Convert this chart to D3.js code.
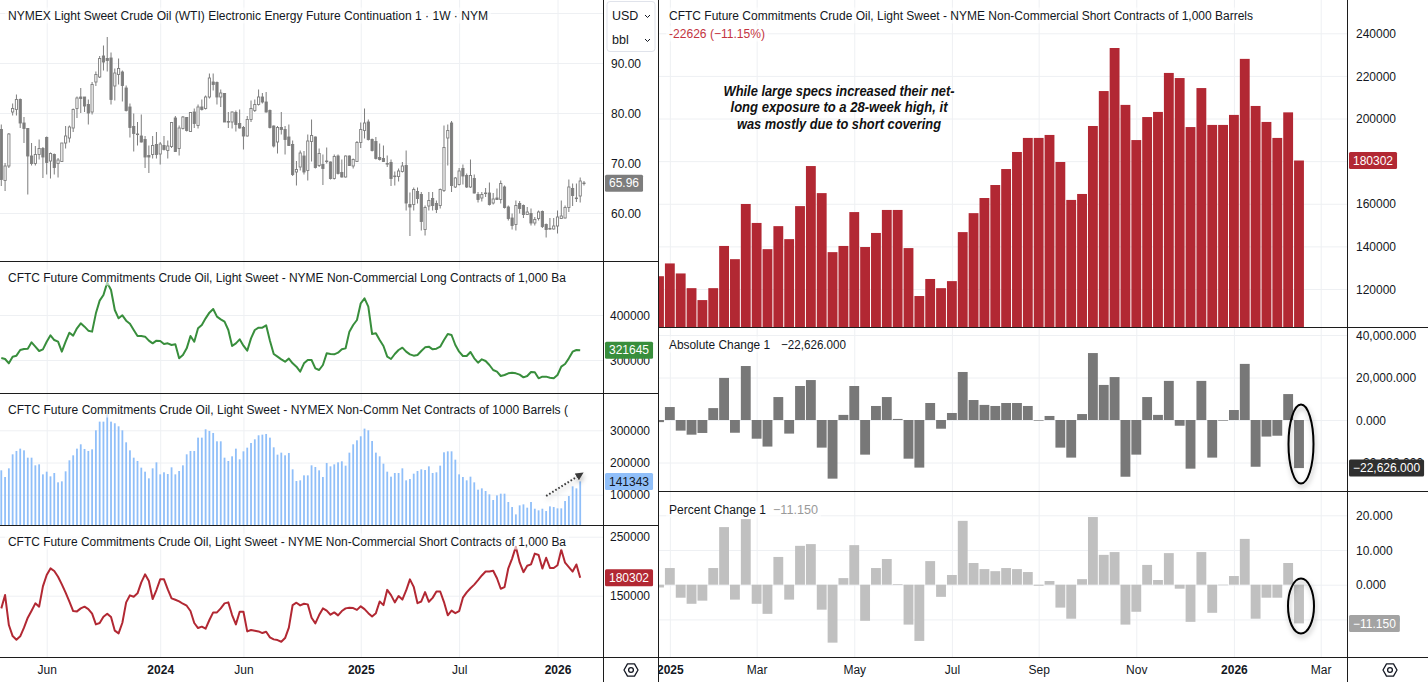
<!DOCTYPE html>
<html>
<head>
<meta charset="utf-8">
<title>WTI and CFTC non-commercial positioning</title>
<script src="https://cdn.jsdelivr.net/npm/d3@7"></script>
<style>
  body { margin: 0; background: #fff; }
  svg { display: block; }
</style>
</head>
<body>
<svg id="chart" width="1428" height="682"></svg>
<script>
// weekly WTI candles, first week 2023-03-13
const wtiOpen = [76.7,66.5,69.4,80.2,80.7,82.7,78.0,76.9,71.4,69.9,71.7,72.9,
  75.1,70.4,71.7,69.9,70.3,74.0,75.0,77.0,80.9,83.2,
  83.2,81.7,80.2,86.2,87.2,91.4,90.9,91.0,85.4,87.7,
  88.2,85.0,81.2,77.3,75.8,75.4,74.7,71.5,71.7,73.7,
  71.8,73.5,72.5,73.3,79.0,72.9,76.9,79.1,76.3,80.2,
  77.5,81.2,80.9,83.2,86.2,86.1,83.2,83.9,78.3,78.2,
  80.1,77.9,77.1,75.4,78.7,80.5,81.7,83.2,82.2,80.5,
  77.4,74.2,77.1,76.7,75.2,73.7,68.2,69.2,71.4,68.5,
  74.3,75.2,69.5,69.7,70.4,70.2,66.9,71.4,68.1,67.2,
  71.4,69.4,70.3,74.1,76.5,78.2,74.7,74.3,71.1,70.9,
  69.9,70.1,67.4,67.3,68.3,69.5,61.7,61.7,64.3,63.7,
  56.7,61.4,62.9,61.9,61.5,64.5,75.0,78.0,65.2,65.7,
  68.9,67.5,65.2,66.9,63.7,63.0,64.0,64.0,62.0,63.0,
  62.7,65.2,61.2,59.0,57.7,61.9,61.5,59.7,59.9,58.0,
  58.9,60.3,57.7,56.9,56.8,57.4,58.9,59.0,61.1,64.9,
  63.0,63.4,66.0];
const wtiHigh = [77.7,70.0,76.0,81.9,83.7,82.9,79.2,77.0,74.0,73.4,74.7,73.2,
  75.3,72.1,71.9,71.0,74.0,77.4,77.5,80.9,83.3,85.0,
  83.2,82.7,86.2,88.3,91.4,93.5,95.2,92.1,88.9,90.9,
  88.5,85.5,81.9,79.9,78.2,79.7,75.4,73.5,75.4,76.2,
  74.2,75.4,74.5,78.2,79.4,77.5,79.4,79.2,80.1,80.9,
  81.7,82.7,83.5,87.9,87.9,86.3,84.7,84.0,80.2,80.3,
  80.5,80.7,77.4,79.4,82.5,82.7,84.7,84.0,84.2,80.7,
  77.5,77.4,80.2,77.4,77.7,74.5,70.4,72.5,72.4,75.7,
  78.7,75.3,72.9,71.7,73.1,70.3,71.7,71.7,70.7,71.5,
  71.5,70.9,74.4,78.1,80.9,78.7,74.9,75.2,73.9,73.5,
  71.5,70.7,68.3,68.9,70.2,72.5,64.1,65.1,65.1,64.2,
  61.5,64.2,64.2,62.5,64.9,77.5,77.7,78.4,67.2,69.0,
  69.7,67.9,70.7,67.7,64.2,64.2,65.0,66.1,64.0,64.9,
  66.5,65.5,61.5,59.9,62.5,62.4,61.7,61.2,60.9,59.2,
  60.5,60.5,57.9,59.0,59.0,60.5,62.5,61.5,66.7,65.9,
  65.9,67.1,66.4];
const wtiLow = [65.4,64.4,69.0,79.5,79.5,77.0,74.0,63.7,69.5,69.5,70.7,67.0,
  67.7,66.9,67.7,67.1,70.2,72.9,74.1,76.2,79.0,80.0,
  80.2,77.7,79.7,85.4,87.0,88.5,88.3,81.7,82.5,85.7,
  82.3,80.3,75.1,72.3,73.5,74.1,69.0,68.0,70.9,70.9,
  69.7,72.5,70.9,73.0,72.2,71.5,76.7,76.3,76.2,77.0,
  76.9,80.5,80.7,82.9,84.5,81.7,81.2,78.2,77.0,76.9,
  76.3,76.9,72.7,75.3,78.2,80.2,81.5,81.9,80.1,76.9,
  73.1,71.9,75.7,71.7,73.4,67.4,65.5,68.5,67.7,66.5,
  70.3,68.9,69.2,65.6,69.9,66.7,66.7,67.7,67.1,67.1,
  69.4,68.9,70.2,73.0,74.9,74.5,72.3,70.7,70.5,70.2,
  69.2,65.4,65.5,66.3,68.1,60.5,55.4,60.5,61.9,56.5,
  55.5,60.5,60.5,60.0,60.9,64.2,69.5,64.2,65.0,65.5,
  65.7,65.0,65.0,63.9,62.1,62.3,63.2,61.5,61.7,62.6,
  61.9,60.9,58.5,56.7,56.5,59.9,59.0,59.7,57.5,57.5,
  58.5,57.0,55.1,56.7,56.7,55.9,58.8,58.9,60.2,61.4,
  62.2,62.1,65.5];
const wtiClose = [66.7,69.4,75.8,80.9,82.7,78.0,76.9,71.4,69.9,71.7,72.9,71.2,
  70.1,71.9,69.1,70.6,74.0,75.4,77.2,80.7,83.0,82.9,
  81.4,80.0,85.7,87.7,90.9,90.2,90.5,82.7,88.0,88.9,
  85.5,80.5,77.1,75.9,75.8,74.2,71.2,71.2,73.5,71.7,
  73.8,72.7,73.4,78.1,72.3,77.0,79.2,76.5,80.1,77.9,
  81.2,80.7,83.2,87.0,85.7,83.2,84.0,78.2,78.2,80.2,
  77.7,77.0,75.4,78.7,80.9,81.7,83.2,82.2,80.2,77.1,
  73.4,77.1,76.7,74.7,73.5,67.7,68.7,72.0,68.2,74.4,
  75.5,69.1,71.9,68.9,70.3,66.9,71.3,67.9,67.2,71.4,
  69.5,70.7,74.1,76.7,78.0,74.7,72.5,70.9,70.7,70.3,
  69.8,66.9,67.4,68.4,69.4,62.0,61.2,64.7,62.9,58.3,
  61.1,62.5,61.5,60.7,64.7,73.1,76.5,65.5,67.0,68.4,
  67.4,65.2,67.5,64.0,62.7,63.7,64.0,61.7,62.8,62.7,
  65.9,61.1,58.9,57.5,61.5,60.9,59.7,60.2,58.0,58.7,
  60.2,57.3,56.7,56.8,57.4,59.2,59.4,61.1,65.2,63.5,
  63.0,66.4,65.96];

// CFTC non-commercial positions (contracts), same weeks, one week fewer
const longContracts = [304400,302200,292600,307400,309600,322200,324400,325200,339300,329600,320000,323700,
  340700,354800,344400,340700,318500,340700,360700,354100,370400,381500,
  374100,365200,363000,403700,431900,444400,471900,455600,411100,392600,
  399300,387400,380700,366700,353300,353300,351900,343000,337000,343000,
  342200,335600,337000,333300,334800,303700,311100,325900,353300,340700,
  370400,377800,392600,405200,413300,396300,390400,385200,366700,331100,
  337000,345900,331900,320700,348100,366700,371900,371900,377000,343000,
  313300,307400,301500,296300,303000,292600,285200,274100,292600,300000,
  300000,281500,277800,288900,314800,313300,312600,316300,323700,325900,
  363000,377800,388900,425900,437000,418500,357800,359300,344400,331100,
  307400,302200,313300,322200,327400,318500,312600,309600,311100,320000,
  328100,329600,323700,325200,329600,344400,357800,355600,333300,318500,
  308900,308900,317800,303700,294100,301500,297800,288900,277800,274100,
  264400,266700,270400,271900,270400,267400,261500,264400,273300,272600,
  259300,263000,263000,260700,259300,266700,285200,291100,303700,318500,
  322200,321645];
const netContracts = [175700,155000,181900,225400,235800,243000,237800,215000,215000,191200,194300,163200,
  171500,157000,167400,138400,141500,172600,206800,222300,243000,256500,
  242000,235800,240900,300000,326900,326900,349700,326900,321800,312400,
  300000,262700,237800,215000,204700,184000,171500,150800,181900,200500,
  163200,169500,164300,185000,163200,173600,191200,225400,235800,235800,
  277200,277200,303100,297900,291700,265800,265800,215000,204700,219200,
  243000,209900,234700,246100,260600,272000,284500,286500,288600,277200,
  247200,224400,230600,222300,229600,178800,142500,144600,160100,160100,
  191200,186000,175700,155000,198500,188100,194300,200500,203700,190200,
  230600,256500,268900,281400,305200,300000,266800,230600,219200,196400,
  171500,156000,167400,167400,181900,144600,148700,165300,173600,178800,
  176700,188100,167400,169500,190200,231600,234700,234700,208800,163200,
  155000,144600,156000,138400,115600,119700,111500,101100,83500,98000,
  103200,103200,77300,61700,38900,66900,70000,59700,77300,56500,
  51400,56500,49300,63800,61700,57600,57600,80400,95900,126000,
  119700,141343];
const shortContracts = [128500,151100,100300,81600,75400,81100,95800,112700,124600,137000,131400,165800,
  185000,196300,191800,182200,169200,155100,139800,124000,123400,128500,
  131400,127400,119500,101400,103700,114400,119500,113800,90700,86200,
  104200,138700,150600,148300,154000,172600,186200,174900,144300,159600,
  177700,177700,160700,145500,143200,140400,136400,133000,124000,103700,
  95200,97500,94100,108800,121700,121700,128500,137000,138700,117200,
  101400,122900,122900,89500,91800,90700,89500,86700,89000,79400,
  76000,74800,72000,78200,95800,134200,138100,133600,136400,135300,
  112700,103100,117200,128500,124600,117800,121700,116700,124000,128500,
  129700,129100,
  126000,132000,127300,120400,114800,120400,140200,134000,159900,151000,
  138700,149500,143400,158900,177700,165000,137300,140200,156100,139700,
  146300,157100,157100,139200,116700,124700,120400,123700,146700,155600,
  162700,168800,176300,184300,190900,190900,192300,179600,161800,164600,
  196500,212900,233100,206400,189900,200700,203100,221400,219000,196000,
  214300,197000,197000,201700,228000,205900,198400,190900,202900,180302];

// week-on-week change of the short position, last 60 weeks
const shortAbsChange = [-1000,6100,-5000,-6900,-6100,5600,19800,-6000,25400,-8800,
  -12500,10800,-6400,16000,18800,-13000,-27600,2400,16000,-16300,
  6600,10800,500,-18200,-22400,8000,-4100,3300,22600,9400,
  7100,6600,8000,8000,6600,-300,1900,-13000,-17700,2800,
  31500,16500,20200,-26700,-16300,10800,2400,18400,-2700,-22900,
  18400,-17700,-300,4700,26400,-22000,-7800,-7400,12200,-22626];
const shortPctChange = [-0.8,4.8,-3.75,-5.5,-4.6,4.8,16.6,-4.3,18.9,-5.5,
  -8.4,8.0,-4.3,11.2,11.7,-7.2,-16.7,1.9,11.4,-10.4,
  4.8,7.4,0.2,-11.5,-16.2,6.8,-3.5,2.8,18.4,6.25,
  4.5,3.9,4.8,4.5,3.65,-0.3,1.06,-6.6,-9.8,1.6,
  19.5,8.6,9.4,-11.5,-7.8,5.7,1.35,9.1,-1.15,-10.7,
  9.4,-8.1,-0.15,2.5,13.2,-9.8,-3.75,-3.75,6.25,-11.15];

const leftTickDates = ['2023-06-05','2024-01-01','2024-06-03','2025-01-06','2025-07-07','2026-01-05'];
const leftTickLabels = ['Jun','2024','Jun','2025','Jul','2026'];
const rightTickDates = ['2025-01-06','2025-03-03','2025-05-05','2025-07-07','2025-09-01','2025-11-03','2026-01-05','2026-03-02'];
const rightTickLabels = ['2025','Mar','May','Jul','Sep','Nov','2026','Mar'];

const priceTicks = [60, 70, 80, 90];
const longTicks = [300000, 400000];
const netTicks = [100000, 200000, 300000];
const shortLeftTicks = [150000, 250000];
const shortRightTicks = [120000, 140000, 160000, 180000, 200000, 220000, 240000];
const absTicks = [-20000, 0, 20000, 40000];
const pctTicks = [-10, 0, 10, 20];

// ---------------------------------------------------------------
const svg = d3.select('#chart');
const font = '"Liberation Sans", Arial, sans-serif';
const textColor = '#131722';
const gridColor = '#eef0f3';
const borderColor = '#1c1c1c';
const candleColor = '#7d7d7d';
const green = '#388e3c';
const red = '#b22833';
const blue = '#90bff9';
const darkGray = '#787878';
const lightGray = '#c0c0c0';

const parseDay = d3.utcParse('%Y-%m-%d');
const weekMs = 7 * 864e5;
const firstWeek = Date.UTC(2023, 2, 13);
const wtiDates = wtiClose.map((d, i) => new Date(firstWeek + i * weekMs));
const cotDates = wtiDates.slice(0, longContracts.length);
const recentDates = cotDates.slice(-shortAbsChange.length);
const recentShort = shortContracts.slice(-shortAbsChange.length);
const lastOf = a => a[a.length - 1];

const xLeft = d3.scaleTime()
  .domain([parseDay('2023-06-05'), parseDay('2026-01-05')])
  .range([46.7, 557.5]);
const xRight = d3.scaleTime()
  .domain([parseDay('2024-12-30'), parseDay('2026-02-16')])
  .range([659, 1299]);

const yPrice = d3.scaleLinear().domain([60, 90]).range([213, 63]);
const yLong = d3.scaleLinear().domain([300000, 400000]).range([360, 315]);
const yNet = d3.scaleLinear().domain([100000, 300000]).range([494.7, 430.3]);
const yShortL = d3.scaleLinear().domain([150000, 250000]).range([595.7, 536.7]);
const yShortR = d3.scaleLinear().domain([120000, 240000]).range([289, 33.3]);
const yAbs = d3.scaleLinear().domain([-20000, 20000]).range([462.5, 377.5]);
const yPct = d3.scaleLinear().domain([-10, 10]).range([619.4, 550]);

const L = { x0: 0, x1: 603 };
const R = { x0: 659, x1: 1347 };
const panes = {
  price: [L, 0, 261], long: [L, 261, 393], net: [L, 393, 525], shortL: [L, 525, 657],
  shortR: [R, 0, 327], abs: [R, 327, 491], pct: [R, 491, 657],
  axisL: [L, 657, 682], axisR: [R, 657, 682]
};

const defs = svg.append('defs');
Object.entries(panes).forEach(([id, [side, top, bottom]]) => {
  defs.append('clipPath').attr('id', 'clip-' + id)
    .append('rect').attr('x', side.x0).attr('y', top)
    .attr('width', side.x1 - side.x0).attr('height', bottom - top);
});
const shadow = defs.append('filter').attr('id', 'shadow')
  .attr('x', '-50%').attr('y', '-50%').attr('width', '200%').attr('height', '200%');
shadow.append('feDropShadow').attr('dx', 1).attr('dy', 3).attr('stdDeviation', 2.5)
  .attr('flood-color', '#000').attr('flood-opacity', 0.3);
defs.append('marker').attr('id', 'arrow').attr('viewBox', '0 0 10 10')
  .attr('refX', 5).attr('refY', 5).attr('markerWidth', 4).attr('markerHeight', 4)
  .attr('orient', 'auto')
  .append('path').attr('d', 'M0,0 L10,5 L0,10 Z').attr('fill', '#3a3a3a');

svg.append('rect').attr('width', 1428).attr('height', 682).attr('fill', '#fff');

function paneGroup(id) {
  return svg.append('g').attr('clip-path', `url(#clip-${id})`);
}

// grid lines
function hGrid(id, y, ticks) {
  const [side] = panes[id];
  paneGroup(id).append('g')
    .attr('transform', `translate(${side.x0},0)`)
    .call(d3.axisRight(y).tickValues(ticks).tickSize(side.x1 - side.x0).tickFormat(''))
    .call(g => g.select('.domain').remove())
    .selectAll('line').attr('stroke', gridColor);
}
function vGrid(id, x, dates) {
  const [, top, bottom] = panes[id];
  paneGroup(id).append('g')
    .attr('transform', `translate(0,${top})`)
    .call(d3.axisBottom(x).tickValues(dates).tickSize(bottom - top).tickFormat(''))
    .call(g => g.select('.domain').remove())
    .selectAll('line').attr('stroke', gridColor);
}
const leftTicks = leftTickDates.map(parseDay);
const rightTicks = rightTickDates.map(parseDay);
['price', 'long', 'net', 'shortL'].forEach(id => vGrid(id, xLeft, leftTicks));
['shortR', 'abs', 'pct'].forEach(id => vGrid(id, xRight, rightTicks));
hGrid('price', yPrice, priceTicks.concat([100]));
hGrid('long', yLong, longTicks);
hGrid('net', yNet, netTicks);
hGrid('shortL', yShortL, shortLeftTicks);
hGrid('shortR', yShortR, shortRightTicks);
hGrid('abs', yAbs, absTicks);
hGrid('pct', yPct, pctTicks);

// WTI candles
const candles = wtiDates.map((date, i) => ({
  date, o: wtiOpen[i], h: wtiHigh[i], l: wtiLow[i], c: wtiClose[i]
}));
const cg = paneGroup('price');
cg.selectAll('line.wick').data(candles).join('line')
  .attr('class', 'wick')
  .attr('x1', d => xLeft(d.date)).attr('x2', d => xLeft(d.date))
  .attr('y1', d => yPrice(d.h)).attr('y2', d => yPrice(d.l))
  .attr('stroke', candleColor).attr('stroke-width', 1);
cg.selectAll('rect.body').data(candles).join('rect')
  .attr('class', 'body')
  .attr('x', d => xLeft(d.date) - 1.1).attr('width', 2.2)
  .attr('y', d => yPrice(Math.max(d.o, d.c)))
  .attr('height', d => Math.max(0.6, Math.abs(yPrice(d.o) - yPrice(d.c))))
  .attr('fill', d => d.c >= d.o ? '#fff' : candleColor)
  .attr('stroke', candleColor).attr('stroke-width', 0.9);

// long / short lines
paneGroup('long').append('path')
  .datum(longContracts)
  .attr('d', d3.line().x((d, i) => xLeft(cotDates[i])).y(d => yLong(d)))
  .attr('fill', 'none').attr('stroke', green).attr('stroke-width', 2).attr('stroke-linejoin', 'round');
paneGroup('shortL').append('path')
  .datum(shortContracts)
  .attr('d', d3.line().x((d, i) => xLeft(cotDates[i])).y(d => yShortL(d)))
  .attr('fill', 'none').attr('stroke', red).attr('stroke-width', 2).attr('stroke-linejoin', 'round');

// net columns
paneGroup('net').selectAll('rect').data(netContracts).join('rect')
  .attr('x', (d, i) => xLeft(cotDates[i]) - 0.9).attr('width', 1.8)
  .attr('y', d => yNet(d)).attr('height', d => panes.net[2] - yNet(d))
  .attr('fill', blue);

// right chart columns
const barW = 9.85;
paneGroup('shortR').selectAll('rect').data(recentShort).join('rect')
  .attr('x', (d, i) => xRight(recentDates[i]) - barW / 2).attr('width', barW)
  .attr('y', d => yShortR(d)).attr('height', d => panes.shortR[2] - yShortR(d))
  .attr('fill', red);
paneGroup('abs').selectAll('rect').data(shortAbsChange).join('rect')
  .attr('x', (d, i) => xRight(recentDates[i]) - barW / 2).attr('width', barW)
  .attr('y', d => yAbs(Math.max(0, d))).attr('height', d => Math.abs(yAbs(d) - yAbs(0)))
  .attr('fill', darkGray);
paneGroup('pct').selectAll('rect').data(shortPctChange).join('rect')
  .attr('x', (d, i) => xRight(recentDates[i]) - barW / 2).attr('width', barW)
  .attr('y', d => yPct(Math.max(0, d))).attr('height', d => Math.abs(yPct(d) - yPct(0)))
  .attr('fill', lightGray);

// legends
function legend(x, baseline, parts) {
  const g = svg.append('g').attr('font-family', font).attr('font-size', 12.5);
  const bg = g.append('rect').attr('fill', '#fff').attr('fill-opacity', 0.6);
  let cx = x;
  parts.forEach(p => {
    if (p.x !== undefined) cx = p.x;
    g.append('text').attr('x', cx).attr('y', baseline).attr('fill', p.color || textColor)
      .attr('textLength', p.width).attr('lengthAdjust', 'spacingAndGlyphs').text(p.text);
    cx += p.width;
  });
  bg.attr('x', x - 3).attr('y', baseline - 12).attr('width', cx - x + 6).attr('height', 16);
}
const lastAbs = lastOf(shortAbsChange);
const lastPct = lastOf(shortPctChange);
legend(8, 19.5, [{ text: 'NYMEX Light Sweet Crude Oil (WTI) Electronic Energy Future Continuation 1 · 1W · NYM', width: 480 }]);
legend(8, 281.5, [{ text: 'CFTC Future Commitments Crude Oil, Light Sweet - NYME Non-Commercial Long Contracts of 1,000 Ba', width: 558 }]);
legend(8, 413.5, [{ text: 'CFTC Future Commitments Crude Oil, Light Sweet - NYMEX Non-Comm Net Contracts of 1000 Barrels (', width: 560 }]);
legend(8, 545.5, [{ text: 'CFTC Future Commitments Crude Oil, Light Sweet - NYME Non-Commercial Short Contracts of 1,000 Ba', width: 558 }]);
legend(669, 19.5, [{ text: 'CFTC Future Commitments Crude Oil, Light Sweet - NYME Non-Commercial Short Contracts of 1,000 Barrels', width: 584 }]);
legend(669, 37.5, [{ text: `-${Math.abs(lastAbs)} (${d3.format('.2f')(lastPct)}%)`, width: 96, color: '#c4343f' }]);
legend(669, 348.5, [{ text: 'Absolute Change 1', width: 101 }, { x: 781, text: d3.format(',.3f')(lastAbs), width: 65 }]);
legend(669, 513.5, [{ text: 'Percent Change 1', width: 97 }, { x: 773, text: d3.format('.3f')(lastPct), width: 45, color: '#9a9a9a' }]);

// annotation
const note = svg.append('g').attr('font-family', '"Liberation Sans Narrow", "Arial Narrow", "Liberation Sans", sans-serif')
  .attr('font-size', 14.5).attr('font-weight', 'bold').attr('font-style', 'italic')
  .attr('fill', '#111').attr('text-anchor', 'middle');
[['While large specs increased their net-', 231, 95.5],
 ['long exposure to a 28-week high, it', 217, 112],
 ['was mostly due to short covering', 204, 128.5]].forEach(([t, w, y]) => {
  note.append('text').attr('x', 839).attr('y', y)
    .attr('textLength', w).attr('lengthAdjust', 'spacingAndGlyphs').text(t);
});

// dotted arrow on the net pane
svg.append('line')
  .attr('x1', xLeft(parseDay('2025-12-15'))).attr('y1', yNet(96000))
  .attr('x2', xLeft(parseDay('2026-02-16'))).attr('y2', yNet(162000))
  .attr('stroke', '#3a3a3a').attr('stroke-width', 2).attr('stroke-dasharray', '1.6,2')
  .attr('marker-end', 'url(#arrow)').attr('filter', 'url(#shadow)');

// circles on the latest change
const lastX = xRight(lastOf(recentDates)) + 2;
svg.append('ellipse').attr('cx', lastX).attr('cy', yAbs(lastAbs / 2))
  .attr('rx', 12.5).attr('ry', 39.5)
  .attr('fill', 'none').attr('stroke', '#000').attr('stroke-width', 2).attr('filter', 'url(#shadow)');
svg.append('ellipse').attr('cx', lastX).attr('cy', yPct(lastPct / 2) + 2)
  .attr('rx', 13).attr('ry', 27.5)
  .attr('fill', 'none').attr('stroke', '#000').attr('stroke-width', 2).attr('filter', 'url(#shadow)');

// price scales; a label sitting right under the last-value tag is hidden, as on the platform
function priceAxis(x, y, ticks, fmt, lastValue) {
  const shown = lastValue === undefined ? ticks : ticks.filter(t => Math.abs(y(t) - y(lastValue)) > 3);
  svg.append('g').attr('transform', `translate(${x},0)`)
    .call(d3.axisRight(y).tickValues(shown).tickSize(0).tickPadding(0).tickFormat(fmt))
    .call(g => g.select('.domain').remove())
    .attr('font-family', font).attr('font-size', 12)
    .selectAll('text').attr('fill', textColor).attr('dy', '0.35em');
}
priceAxis(611, yPrice, priceTicks, d3.format('.2f'), lastOf(wtiClose));
priceAxis(610, yLong, longTicks, d3.format('d'), lastOf(longContracts));
priceAxis(610, yNet, netTicks, d3.format('d'), lastOf(netContracts));
priceAxis(610, yShortL, shortLeftTicks, d3.format('d'), lastOf(shortContracts));
priceAxis(1356, yShortR, shortRightTicks, d3.format('d'), lastOf(recentShort));
priceAxis(1356, yAbs, absTicks, d3.format(',.3f'), lastAbs);
priceAxis(1356, yPct, pctTicks, d3.format('.3f'), lastPct);

function valueTag(x, y, str, bg, fg) {
  const g = svg.append('g').attr('font-family', font).attr('font-size', 12);
  const t = g.append('text').attr('x', x + 4).attr('y', y).attr('dy', '0.35em').attr('fill', fg).text(str);
  const w = t.node().getComputedTextLength() + 8;
  g.insert('rect', 'text').attr('x', x).attr('y', y - 8.5).attr('width', w).attr('height', 17).attr('fill', bg).attr('rx', 1.5);
}
valueTag(605, yPrice(lastOf(wtiClose)), d3.format('.2f')(lastOf(wtiClose)), candleColor, '#fff');
valueTag(605, yLong(lastOf(longContracts)), d3.format('d')(lastOf(longContracts)), green, '#fff');
valueTag(605, yNet(lastOf(netContracts)), d3.format('d')(lastOf(netContracts)), blue, textColor);
valueTag(605, yShortL(lastOf(shortContracts)), d3.format('d')(lastOf(shortContracts)), red, '#fff');
valueTag(1349, yShortR(lastOf(recentShort)), d3.format('d')(lastOf(recentShort)), red, '#fff');
valueTag(1349, yAbs(lastAbs), d3.format(',.3f')(lastAbs), '#2f2f2f', '#fff');
valueTag(1349, yPct(lastPct), d3.format('.3f')(lastPct), '#a3a3a3', '#fff');

// time axes
function timeAxis(id, x, dates, labels) {
  paneGroup(id).append('g').attr('transform', 'translate(0,670)')
    .call(d3.axisBottom(x).tickValues(dates).tickSize(0).tickFormat((d, i) => labels[i]))
    .call(g => g.select('.domain').remove())
    .attr('font-family', font).attr('font-size', 12)
    .selectAll('text')
    .attr('y', 0).attr('dy', '0.35em').attr('fill', textColor)
    .attr('font-weight', (d, i) => /^\d{4}$/.test(labels[i]) ? 'bold' : null);
}
timeAxis('axisL', xLeft, leftTicks, leftTickLabels);
timeAxis('axisR', xRight, rightTicks, rightTickLabels);

// currency / unit buttons
const unitBox = svg.append('g').attr('font-family', font).attr('font-size', 12.5).attr('fill', textColor);
unitBox.append('rect').attr('x', 607).attr('y', 1.5).attr('width', 48).attr('height', 50).attr('rx', 3)
  .attr('fill', '#fff').attr('stroke', '#e0e3eb');
[['USD', 16], ['bbl', 40]].forEach(([t, y]) => {
  unitBox.append('text').attr('x', 612).attr('y', y).attr('dy', '0.35em').text(t);
  unitBox.append('path').attr('d', `M645,${y - 1} l2.5,2.5 l2.5,-2.5`)
    .attr('fill', 'none').attr('stroke', textColor).attr('stroke-width', 1);
});

// settings icons
function gear(cx, cy) {
  const pts = d3.range(6).map(k => {
    const a = Math.PI / 3 * k;
    return [cx + 7 * Math.cos(a), cy + 7 * Math.sin(a)];
  });
  svg.append('path').attr('d', 'M' + pts.join('L') + 'Z')
    .attr('fill', 'none').attr('stroke', textColor).attr('stroke-width', 1.3).attr('stroke-linejoin', 'round');
  svg.append('circle').attr('cx', cx).attr('cy', cy).attr('r', 2.4)
    .attr('fill', 'none').attr('stroke', textColor).attr('stroke-width', 1.3);
}
gear(631, 670);
gear(1390, 670);

// pane borders
const borders = svg.append('g').attr('stroke', borderColor).attr('stroke-width', 1);
[[603.5, 0, 603.5, 682], [658.5, 0, 658.5, 682], [1347.5, 0, 1347.5, 682],
 [0, 657.5, 1428, 657.5],
 [0, 261.5, 658, 261.5], [0, 393.5, 658, 393.5], [0, 525.5, 658, 525.5],
 [659, 327.5, 1428, 327.5], [659, 491.5, 1428, 491.5]].forEach(([x1, y1, x2, y2]) => {
  borders.append('line').attr('x1', x1).attr('y1', y1).attr('x2', x2).attr('y2', y2);
});
</script>
</body>
</html>
